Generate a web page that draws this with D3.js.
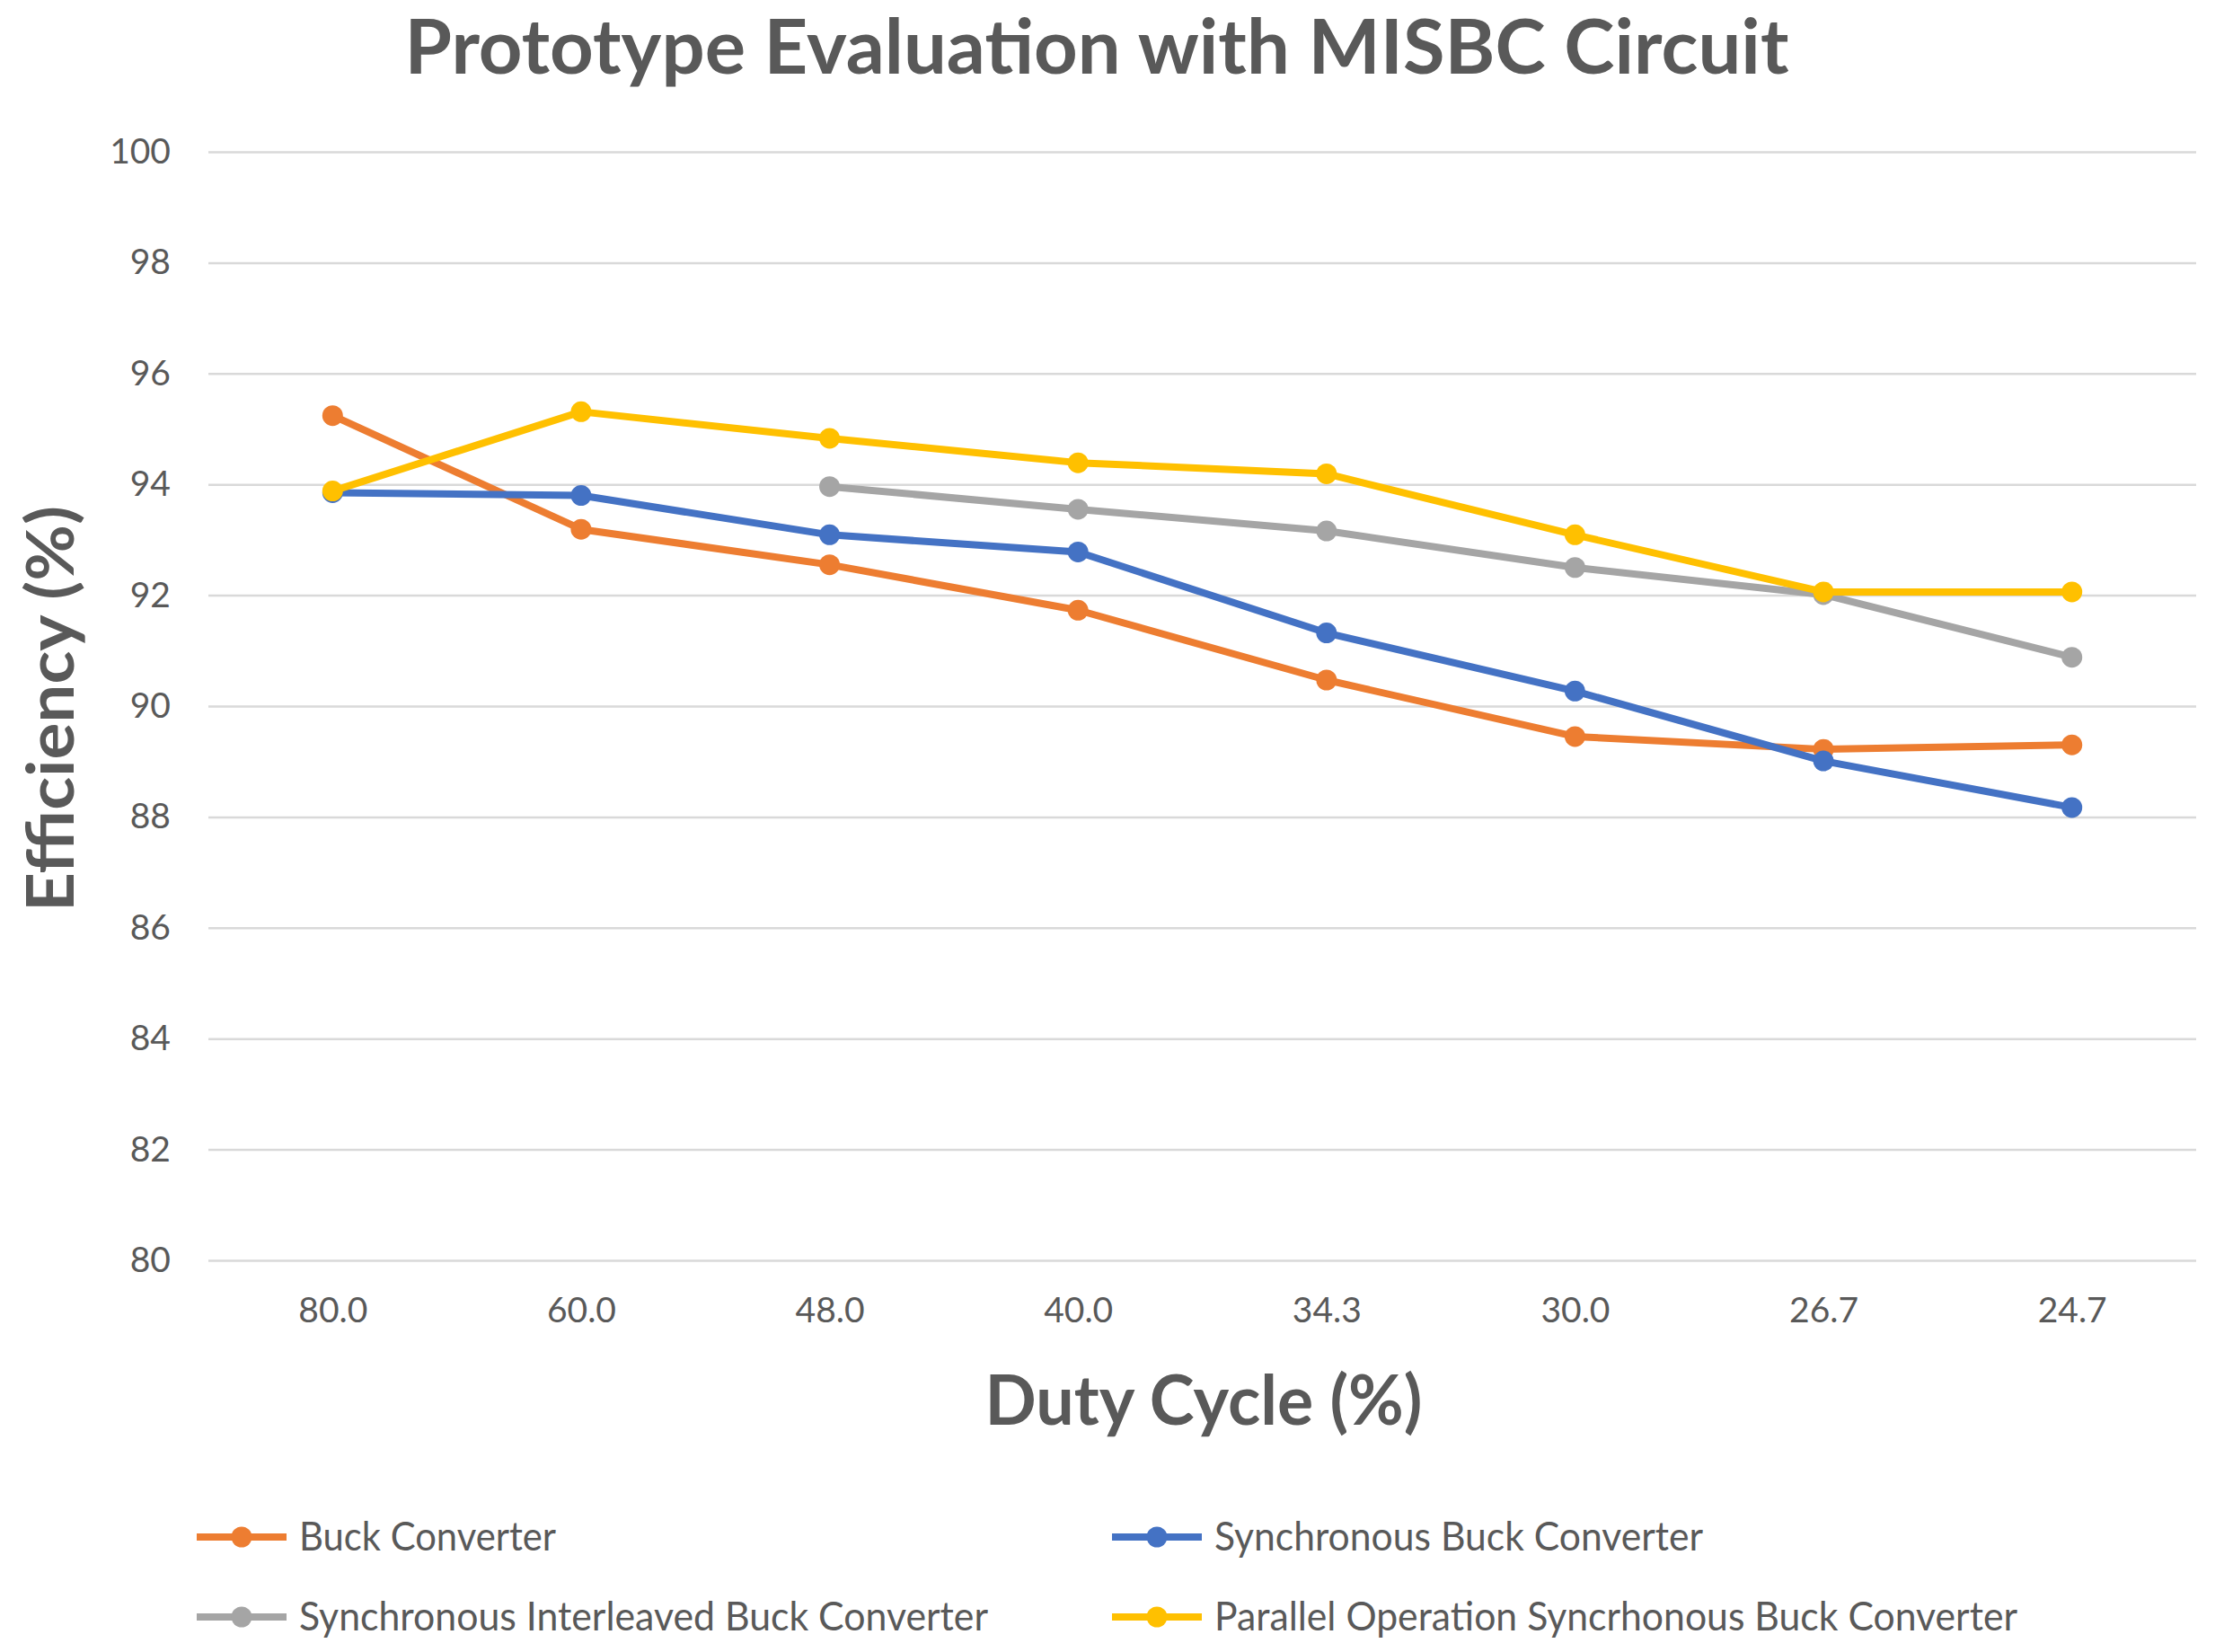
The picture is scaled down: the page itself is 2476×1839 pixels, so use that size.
<!DOCTYPE html>
<html>
<head>
<meta charset="utf-8">
<script src="https://cdn.jsdelivr.net/npm/d3@7"></script>
<style>
    body { margin: 0; background: #fff; }
    svg { display: block; }
</style>
</head>
<body>
<div id="chart"></div>
<script>
// Data
const dutyCycles = ["80.0", "60.0", "48.0", "40.0", "34.3", "30.0", "26.7", "24.7"];
const yTicks = [80, 82, 84, 86, 88, 90, 92, 94, 96, 98, 100];

const buckConverter = [95.24, 93.19, 92.55, 91.73, 90.47, 89.45, 89.22, 89.30];
const syncBuckConverter = [93.85, 93.80, 93.09, 92.78, 91.32, 90.27, 89.01, 88.17];
const syncInterleavedBuck = [null, null, 93.96, 93.55, 93.16, 92.50, 92.01, 90.88];
const parallelSyncBuck = [93.88, 95.31, 94.83, 94.39, 94.19, 93.09, 92.06, 92.06];

const seriesNames = [
    "Buck Converter",
    "Synchronous Buck Converter",
    "Synchronous Interleaved Buck Converter",
    "Parallel Operation Syncrhonous Buck Converter"
];
const seriesValues = [buckConverter, syncBuckConverter, syncInterleavedBuck, parallelSyncBuck];
const seriesColors = ["#ED7D31", "#4472C4", "#A5A5A5", "#FFC000"];

const width = 2476, height = 1839;
const margin = { top: 169, right: 31, bottom: 436, left: 232 };
const textColor = "#595959";
const font = "Lato, 'Open Sans', sans-serif";

const svg = d3.select("#chart")
    .append("svg")
    .attr("width", width)
    .attr("height", height);

const x = d3.scalePoint()
    .domain(dutyCycles)
    .range([margin.left, width - margin.right])
    .padding(0.5);

const y = d3.scaleLinear()
    .domain([80, 100])
    .range([height - margin.bottom, margin.top]);

// Horizontal grid
svg.append("g")
    .attr("transform", `translate(${margin.left},0)`)
    .call(d3.axisLeft(y).tickValues(yTicks).tickSize(-(width - margin.left - margin.right)).tickFormat(""))
    .call(g => g.select(".domain").remove())
    .selectAll("line")
    .attr("stroke", "#d9d9d9")
    .attr("stroke-width", 2.5);

// Y tick labels
svg.append("g")
    .attr("transform", `translate(${margin.left},0)`)
    .call(d3.axisLeft(y).tickValues(yTicks).tickSize(0).tickPadding(42))
    .call(g => g.select(".domain").remove())
    .selectAll("text")
    .attr("fill", textColor)
    .style("font-family", font)
    .style("font-size", "39px");

// X tick labels
svg.append("g")
    .attr("transform", `translate(0,${height - margin.bottom})`)
    .call(d3.axisBottom(x).tickSize(0).tickPadding(41))
    .call(g => g.select(".domain").remove())
    .selectAll("text")
    .attr("fill", textColor)
    .style("font-family", font)
    .style("font-size", "39px");

// Lines and markers
const line = d3.line()
    .defined(d => d.v !== null)
    .x(d => x(d.c))
    .y(d => y(d.v));

seriesValues.forEach((vals, i) => {
    const pts = vals.map((v, j) => ({ c: dutyCycles[j], v: v }));
    const g = svg.append("g");
    g.append("path")
        .datum(pts)
        .attr("fill", "none")
        .attr("stroke", seriesColors[i])
        .attr("stroke-width", 8)
        .attr("stroke-linejoin", "round")
        .attr("d", line);
    g.selectAll("circle")
        .data(pts.filter(d => d.v !== null))
        .join("circle")
        .attr("cx", d => x(d.c))
        .attr("cy", d => y(d.v))
        .attr("r", 11.5)
        .attr("fill", seriesColors[i]);
});

// Title
svg.append("text")
    .attr("x", 1221)
    .attr("y", 82)
    .attr("text-anchor", "middle")
    .attr("fill", textColor)
    .attr("textLength", 1541)
    .attr("lengthAdjust", "spacingAndGlyphs")
    .style("font-family", font)
    .style("font-weight", "bold")
    .style("font-size", "84px")
    .text("Prototype Evaluation with MISBC Circuit");

// Axis titles
svg.append("text")
    .attr("transform", "translate(82,789) rotate(-90)")
    .attr("text-anchor", "middle")
    .attr("fill", textColor)
    .attr("textLength", 452)
    .attr("lengthAdjust", "spacingAndGlyphs")
    .style("font-family", font)
    .style("font-weight", "bold")
    .style("font-size", "72px")
    .text("Efficiency (%)");

svg.append("text")
    .attr("x", 1340)
    .attr("y", 1586)
    .attr("text-anchor", "middle")
    .attr("fill", textColor)
    .attr("textLength", 487)
    .attr("lengthAdjust", "spacingAndGlyphs")
    .style("font-family", font)
    .style("font-weight", "bold")
    .style("font-size", "76px")
    .text("Duty Cycle (%)");

// Legend (2 x 2)
const legendPos = [
    { x: 219, y: 1711, w: 286 },
    { x: 1238, y: 1711, w: 544 },
    { x: 219, y: 1800, w: 767 },
    { x: 1238, y: 1800, w: 894 }
];

seriesNames.forEach((name, i) => {
    const p = legendPos[i];
    const g = svg.append("g").attr("transform", `translate(${p.x},${p.y})`);
    g.append("line")
        .attr("x1", 0).attr("x2", 100)
        .attr("stroke", seriesColors[i])
        .attr("stroke-width", 8);
    g.append("circle")
        .attr("cx", 50)
        .attr("r", 11.5)
        .attr("fill", seriesColors[i]);
    g.append("text")
        .attr("x", 114)
        .attr("dy", "0.35em")
        .attr("fill", textColor)
        .attr("textLength", p.w)
        .attr("lengthAdjust", "spacingAndGlyphs")
        .style("font-family", font)
        .style("font-size", "44px")
        .text(name);
});
</script>
</body>
</html>
